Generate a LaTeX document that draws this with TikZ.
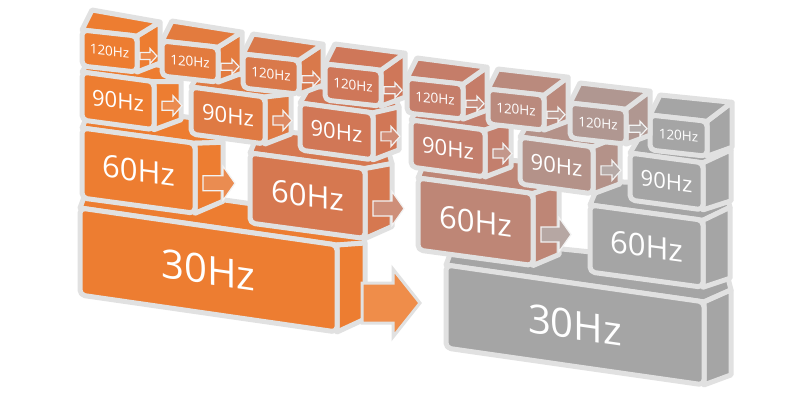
\documentclass[tikz,border=0pt]{standalone}
\usepackage{fontspec}
\setmainfont{Open Sans}
\definecolor{cO}{RGB}{237,125,49}
\definecolor{cM}{RGB}{202,118,95}
\definecolor{cG}{RGB}{165,165,165}
\definecolor{bord}{RGB}{225,225,225}
\colorlet{kAa}{cO}
\colorlet{kAb}{cO!71!cM}
\colorlet{kAc}{cO!43!cM}
\colorlet{kAd}{cO!14!cM}
\colorlet{kAe}{cM!86!cG}
\colorlet{kAf}{cM!57!cG}
\colorlet{kAg}{cM!29!cG}
\colorlet{kAh}{cG}
\colorlet{kBa}{cO}
\colorlet{kBb}{cO!60!cM}
\colorlet{kBc}{cO!20!cM}
\colorlet{kBd}{cM!80!cG}
\colorlet{kBe}{cM!40!cG}
\colorlet{kBf}{cG}
\colorlet{kCa}{cO}
\colorlet{kCb}{cO!33!cM}
\colorlet{kCc}{cM!67!cG}
\colorlet{kCd}{cG}
\colorlet{kDa}{cO}
\colorlet{kDb}{cG}
% block geometry: L T W H slope D Ut Ub
\newcommand\zzset[8]{%
  \pgfmathsetmacro\zL{#1}\pgfmathsetmacro\zT{#2}%
  \pgfmathsetmacro\zR{#1+#3}%
  \pgfmathsetmacro\zTR{#2+#5*#3}%
  \pgfmathsetmacro\zBL{#2+#4}%
  \pgfmathsetmacro\zBR{#2+#5*#3+#4}%
  \pgfmathsetmacro\zX{#1+#3+#6}%
  \pgfmathsetmacro\zXT{#2+#5*#3-#7}%
  \pgfmathsetmacro\zXB{#2+#5*#3+#4-#8}%
  \pgfmathsetmacro\zCx{#1+#3/2}%
  \pgfmathsetmacro\zCy{#2+#5*#3/2+#4/2}%
  \pgfmathsetmacro\zMy{#2+#5*#3+#4/2}%
  \def\zS{#5}}
\newcommand\zzside[1]{\draw[face,fill=#1] (\zR,\zTR) -- (\zX,\zXT) -- (\zX,\zXB) -- (\zR,\zBR) -- cycle;}
\newcommand\zzfront[1]{\draw[face,fill=#1,rounded corners=5pt] (\zL,\zT) -- (\zR,\zTR) -- (\zR,\zBR) -- (\zL,\zBL) -- cycle;}
\newcommand\zztopc[1]{\draw[face,fill=#1] (\zL,\zT) -- (\zR,\zTR) -- (\zX,\zXT) -- (\zL+10,\zT-20) -- cycle;}
\newcommand\zztopl[2]{\draw[face,fill=#1] (\zL,\zT) -- (\zR,\zTR) -- (\zX,\zXT) -- (\zX-6,\zXT-#2) -- (\zL+10,\zT-#2-3) -- cycle;}
\newcommand\zzlbl[3]{\node[lbl,font=\fontsize{#3}{#3}\selectfont,yslant=-\zS] (#1) at (\zCx,\zCy) {#2};}
% arrow: x0 x1 yc a b headlen fill style
\newcommand\zzarr[8]{\draw[#8,fill=#7] (#1,#3-#4) -- (#2-#6,#3-#4) -- (#2-#6,#3-#5) -- (#2,#3) -- (#2-#6,#3+#5) -- (#2-#6,#3+#4) -- (#1,#3+#4) -- cycle;}
\newcommand\zzaA[1]{\zzarr{\zR+3}{\zX-3}{\zMy+2}{3.5}{7.5}{7}{#1}{arr}}
\newcommand\zzaB[1]{\zzarr{\zR+8}{\zX+1}{\zMy}{4.5}{10}{9}{#1}{arr}}
\newcommand\zzaC[1]{\zzarr{\zR+8}{\zX+12}{\zMy+5}{7.5}{17}{12}{#1}{arr}}
\begin{document}
\begin{tikzpicture}[x=1pt,y=-1pt,
  face/.style={draw=bord,line width=5pt,line join=round},
  arr/.style={draw=white!90!gray,line width=1.2pt,line join=miter},
  bigarr/.style={draw=bord,line width=3pt,line join=miter},
  lbl/.style={text=white,inner sep=0pt,anchor=center}]
\useasboundingbox (0,0) rectangle (800,400);
\fill[white] (0,0) rectangle (800,400);
% ---------- row 30Hz ----------
\zzset{446}{265}{258}{83}{0.143}{27}{12}{10}
\zztopl{kDb}{24}\zzside{kDb}\zzfront{kDb}\zzlbl{t30b}{30Hz}{40}
\zzset{80}{208}{257}{87}{0.144}{28}{2}{13}
\zztopl{kDa}{24}\zzside{kDa}\zzfront{kDa}\zzlbl{t30a}{30Hz}{40}
\zzarr{362}{420}{303}{20}{34}{27}{cO!88!white}{bigarr}
% ---------- row 60Hz ----------
\zzset{590}{205}{113}{67}{0.135}{27}{13}{9}
\zztopl{kCd}{21}\zzside{kCd}\zzfront{kCd}\zzlbl{t60d}{60Hz}{31}
\zzset{418}{178}{115}{72}{0.135}{26}{9}{11}
\zztopl{kCc}{21}\zzside{kCc}\zzfront{kCc}\zzaC{kCc!30!kCd!88!white}\zzlbl{t60c}{60Hz}{31}
\zzset{250}{153}{115}{70}{0.135}{27}{5}{12}
\zztopl{kCb}{21}\zzside{kCb}\zzfront{kCb}\zzaC{kCb!40!kCc!88!white}\zzlbl{t60b}{60Hz}{31}
\zzset{82}{128}{113}{70}{0.135}{28}{1}{12}
\zztopl{kCa}{21}\zzside{kCa}\zzfront{kCa}\zzaC{kCa!75!kCb!88!white}\zzlbl{t60a}{60Hz}{31}
% ---------- row 90Hz ----------
\zzset{630}{153}{73}{47}{0.135}{28}{13}{9}
\zztopl{kBf}{14}\zzside{kBf}\zzfront{kBf}\zzlbl{t90f}{90Hz}{22}
\zzset{520}{137}{73}{47}{0.135}{27}{11}{10}
\zztopl{kBe}{14}\zzside{kBe}\zzfront{kBe}\zzaB{kBe!40!kBf!88!white}\zzlbl{t90e}{90Hz}{22}
\zzset{411}{120}{74}{47}{0.135}{26}{9}{10}
\zztopl{kBd}{14}\zzside{kBd}\zzfront{kBd}\zzaB{kBd!50!kBe!88!white}\zzlbl{t90d}{90Hz}{22}
\zzset{300}{103}{73}{47}{0.135}{26}{6}{10}
\zztopl{kBc}{14}\zzside{kBc}\zzfront{kBc}\zzaB{kBc!50!kBd!88!white}\zzlbl{t90c}{90Hz}{22}
\zzset{191}{87}{74}{47}{0.135}{26}{3}{10}
\zztopl{kBb}{14}\zzside{kBb}\zzfront{kBb}\zzaB{kBb!50!kBc!88!white}\zzlbl{t90b}{90Hz}{22}
\zzset{82}{72}{72}{48}{0.135}{27}{0}{10}
\zztopl{kBa}{14}\zzside{kBa}\zzfront{kBa}\zzaB{kBa!70!kBb!88!white}\zzlbl{t90a}{90Hz}{22}
% ---------- row 120Hz ----------
\zzset{650}{115}{57}{35}{0.11}{25}{19}{9}
\zzside{kAh}\zztopc{kAh}\zzfront{kAh}\zzlbl{t120h}{120Hz}{13.5}
\zzset{570}{103}{56}{35}{0.11}{24}{18}{9}
\zzside{kAg}\zztopc{kAg}\zzfront{kAg}\zzaA{kAg!40!kAh!90!white}\zzlbl{t120g}{120Hz}{13.5}
\zzset{488}{89}{56}{35}{0.11}{24}{18}{9}
\zzside{kAf}\zztopc{kAf}\zzfront{kAf}\zzaA{kAf!50!kAg!90!white}\zzlbl{t120f}{120Hz}{13.5}
\zzset{407}{78}{56}{35}{0.11}{24}{17}{9}
\zzside{kAe}\zztopc{kAe}\zzfront{kAe}\zzaA{kAe!50!kAf!90!white}\zzlbl{t120e}{120Hz}{13.5}
\zzset{325}{64}{56}{36}{0.11}{24}{17}{9}
\zzside{kAd}\zztopc{kAd}\zzfront{kAd}\zzaA{kAd!50!kAe!90!white}\zzlbl{t120d}{120Hz}{13.5}
\zzset{243}{54}{56}{34}{0.11}{24}{16}{9}
\zzside{kAc}\zztopc{kAc}\zzfront{kAc}\zzaA{kAc!50!kAd!90!white}\zzlbl{t120c}{120Hz}{13.5}
\zzset{162}{41}{56}{35}{0.11}{24}{15}{9}
\zzside{kAb}\zztopc{kAb}\zzfront{kAb}\zzaA{kAb!50!kAc!90!white}\zzlbl{t120b}{120Hz}{13.5}
\zzset{82}{30}{55}{36}{0.11}{23}{14}{9}
\zzside{kAa}\zztopc{kAa}\zzfront{kAa}\zzaA{kAa!70!kAb!90!white}\zzlbl{t120a}{120Hz}{13.5}
\end{tikzpicture}
\end{document}
